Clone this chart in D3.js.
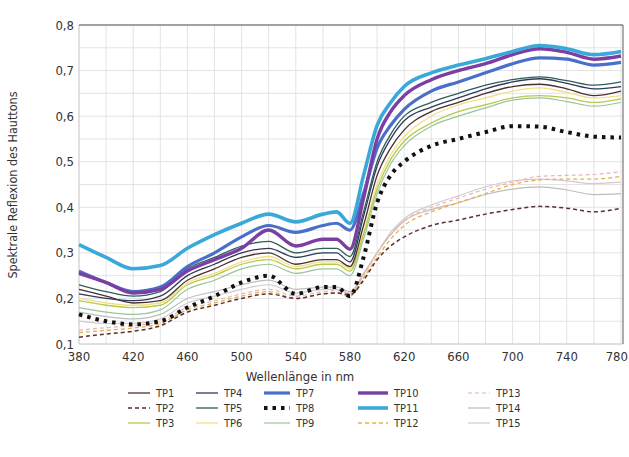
<!DOCTYPE html>
<html><head><meta charset="utf-8">
<script src="https://cdn.jsdelivr.net/npm/d3@7"></script>
<style>body{margin:0;background:#fff}svg{display:block}text{font-family:"DejaVu Sans Condensed","Roboto",sans-serif;fill:#333}</style>
</head><body><svg id="c" width="629" height="457"></svg>
<script>
const wavelengths = [380,400,420,440,460,480,500,520,540,560,570,580,590,600,610,620,640,660,680,700,720,740,760,780];
const seriesNames = ["TP1","TP2","TP3","TP4","TP5","TP6","TP7","TP8","TP9","TP10","TP11","TP12","TP13","TP14","TP15"];
const TP1  = [0.220,0.205,0.190,0.195,0.240,0.265,0.290,0.300,0.275,0.285,0.285,0.270,0.360,0.470,0.530,0.570,0.610,0.630,0.650,0.665,0.670,0.660,0.645,0.655];
const TP2  = [0.115,0.122,0.128,0.140,0.170,0.185,0.200,0.210,0.200,0.210,0.212,0.208,0.240,0.285,0.315,0.335,0.360,0.372,0.385,0.395,0.402,0.398,0.390,0.398];
const TP3  = [0.195,0.185,0.180,0.185,0.230,0.250,0.275,0.285,0.265,0.275,0.275,0.260,0.340,0.440,0.505,0.545,0.585,0.610,0.625,0.640,0.645,0.640,0.630,0.638];
const TP4  = [0.210,0.200,0.195,0.205,0.250,0.275,0.300,0.310,0.290,0.300,0.300,0.280,0.380,0.490,0.550,0.590,0.620,0.640,0.660,0.675,0.682,0.672,0.660,0.665];
const TP5  = [0.230,0.215,0.205,0.215,0.265,0.290,0.315,0.325,0.300,0.310,0.310,0.292,0.390,0.500,0.560,0.600,0.630,0.650,0.668,0.680,0.686,0.678,0.668,0.675];
const TP6  = [0.200,0.190,0.185,0.190,0.235,0.255,0.280,0.292,0.270,0.280,0.280,0.265,0.345,0.450,0.515,0.555,0.600,0.625,0.640,0.655,0.662,0.652,0.640,0.645];
const TP7  = [0.260,0.235,0.215,0.225,0.270,0.300,0.335,0.360,0.345,0.360,0.365,0.350,0.430,0.530,0.580,0.615,0.655,0.675,0.695,0.715,0.728,0.725,0.712,0.718];
const TP8  = [0.165,0.150,0.143,0.150,0.180,0.205,0.235,0.250,0.210,0.225,0.225,0.205,0.290,0.410,0.470,0.500,0.535,0.550,0.565,0.578,0.577,0.565,0.555,0.553];
const TP9  = [0.180,0.170,0.165,0.175,0.220,0.240,0.265,0.275,0.255,0.265,0.265,0.250,0.330,0.430,0.495,0.535,0.578,0.600,0.618,0.635,0.640,0.632,0.622,0.630];
const TP10 = [0.255,0.235,0.212,0.220,0.260,0.285,0.310,0.350,0.315,0.330,0.330,0.308,0.420,0.550,0.610,0.645,0.680,0.700,0.715,0.735,0.748,0.740,0.725,0.732];
const TP11 = [0.318,0.290,0.265,0.272,0.310,0.340,0.365,0.385,0.368,0.385,0.390,0.365,0.470,0.580,0.630,0.665,0.695,0.712,0.726,0.742,0.755,0.748,0.735,0.742];
const TP12 = [0.125,0.130,0.135,0.145,0.175,0.190,0.205,0.215,0.200,0.210,0.212,0.205,0.245,0.290,0.330,0.360,0.390,0.410,0.430,0.450,0.460,0.462,0.462,0.468];
const TP13 = [0.130,0.136,0.140,0.150,0.180,0.195,0.210,0.220,0.205,0.215,0.217,0.210,0.250,0.300,0.340,0.370,0.400,0.420,0.440,0.455,0.468,0.470,0.472,0.478];
const TP14 = [0.170,0.160,0.155,0.165,0.200,0.215,0.230,0.240,0.220,0.225,0.225,0.215,0.255,0.300,0.340,0.370,0.395,0.410,0.428,0.440,0.445,0.438,0.428,0.430];
const TP15 = [0.150,0.145,0.145,0.155,0.190,0.205,0.220,0.230,0.212,0.220,0.220,0.212,0.252,0.300,0.345,0.375,0.405,0.425,0.445,0.458,0.462,0.458,0.452,0.455];
const seriesValues = [TP1,TP2,TP3,TP4,TP5,TP6,TP7,TP8,TP9,TP10,TP11,TP12,TP13,TP14,TP15];
const seriesColors = ["#4a3030","#5a3030","#b9c94a","#2e3a5c","#2f5e58","#f0e08a","#4a6fca","#111111","#98c69a","#7b3fa3","#3aa9d9","#e8b048","#e6b4b4","#bdbdbd","#d6c8cc"];
const xTicks = [380,420,460,500,540,580,620,660,700,740,780];
const yTicks = [0.1,0.2,0.3,0.4,0.5,0.6,0.7,0.8];
const xTitle = "Wellenlänge in nm";
const yTitle = "Spektrale Reflexion des Hauttons";

const styles = {
  TP1:{w:1.3}, TP2:{w:1.5,dash:"4 3"}, TP3:{w:1.3}, TP4:{w:1.3}, TP5:{w:1.3}, TP6:{w:1.3},
  TP7:{w:3.2}, TP8:{w:4,dash:"3.5 5"}, TP9:{w:1.2}, TP10:{w:3.4}, TP11:{w:3.6},
  TP12:{w:1.3,dash:"4 3"}, TP13:{w:1.2,dash:"4 3"}, TP14:{w:1.2}, TP15:{w:1.2}
};

const svg = d3.select("#c");
const L=79, R=621, T=25, B=344;
const x = d3.scaleLinear().domain([380,780]).range([L,R]);
const y = d3.scaleLinear().domain([0.1,0.8]).range([B,T]);

// grid
const g = svg.append("g");
g.selectAll("line.v").data(d3.range(380,781,20)).join("line")
  .attr("x1",d=>x(d)).attr("x2",d=>x(d)).attr("y1",T).attr("y2",B)
  .attr("stroke","#e3e3e3").attr("stroke-width",1);
g.selectAll("line.h").data(d3.range(0.1,0.801,0.05)).join("line")
  .attr("x1",L).attr("x2",R+2).attr("y1",d=>y(d)).attr("y2",d=>y(d))
  .attr("stroke","#e3e3e3").attr("stroke-width",1);
// frame
svg.append("line").attr("x1",L).attr("x2",R+2).attr("y1",B).attr("y2",B).attr("stroke","#cfcfcf");
svg.append("line").attr("x1",L).attr("x2",L).attr("y1",T).attr("y2",B).attr("stroke","#cfcfcf");
svg.append("line").attr("x1",L).attr("x2",R+2).attr("y1",T).attr("y2",T).attr("stroke","#555").attr("stroke-width",1.2);
svg.append("line").attr("x1",R+2).attr("x2",R+2).attr("y1",T).attr("y2",B).attr("stroke","#777").attr("stroke-width",1.2);

// lines
const line = d3.line().x((d,i)=>x(wavelengths[i])).y(d=>y(d)).curve(d3.curveMonotoneX);
const order = [13,14,12,11,1,8,5,2,0,3,4,7,6,9,10];
svg.append("g").selectAll("path").data(order).join("path")
  .attr("d",i=>line(seriesValues[i]))
  .attr("fill","none")
  .attr("stroke",i=>seriesColors[i])
  .attr("stroke-width",i=>styles[seriesNames[i]].w)
  .attr("stroke-dasharray",i=>styles[seriesNames[i]].dash||null)
  .attr("stroke-linejoin","round");

// axes labels
const fmt = d=>d3.format(".1f")(d).replace(".",",");
svg.append("g").selectAll("text").data(yTicks).join("text")
  .attr("x",L-5).attr("y",d=>y(d)+4.5).attr("text-anchor","end")
  .attr("font-size",13).text(fmt);
svg.append("g").selectAll("text").data(xTicks).join("text")
  .attr("x",d=>d===780?628:x(d)).attr("y",B+17)
  .attr("text-anchor",d=>d===780?"end":"middle")
  .attr("font-size",13).text(d=>d);
svg.append("text").attr("x",300).attr("y",381).attr("text-anchor","middle").attr("font-size",13).text(xTitle);
svg.append("text").attr("transform","translate(17,185) rotate(-90)").attr("text-anchor","middle").attr("font-size",12.5).text(yTitle);

// legend
const colX = [128,196,264,358,468], lineLen=[22,22,26,30,22], rowY=[393,408,423];
const lg = svg.append("g");
seriesNames.forEach((n,i)=>{
  const c=Math.floor(i/3), r=i%3;
  const x0=colX[c], yy=rowY[r], st=styles[n];
  lg.append("line").attr("x1",x0).attr("x2",x0+lineLen[c]).attr("y1",yy).attr("y2",yy)
    .attr("stroke",seriesColors[i]).attr("stroke-width",st.w)
    .attr("stroke-dasharray",st.dash||null);
  lg.append("text").attr("x",x0+lineLen[c]+6).attr("y",yy+4).attr("font-size",11).text(n);
});
</script></body></html>
